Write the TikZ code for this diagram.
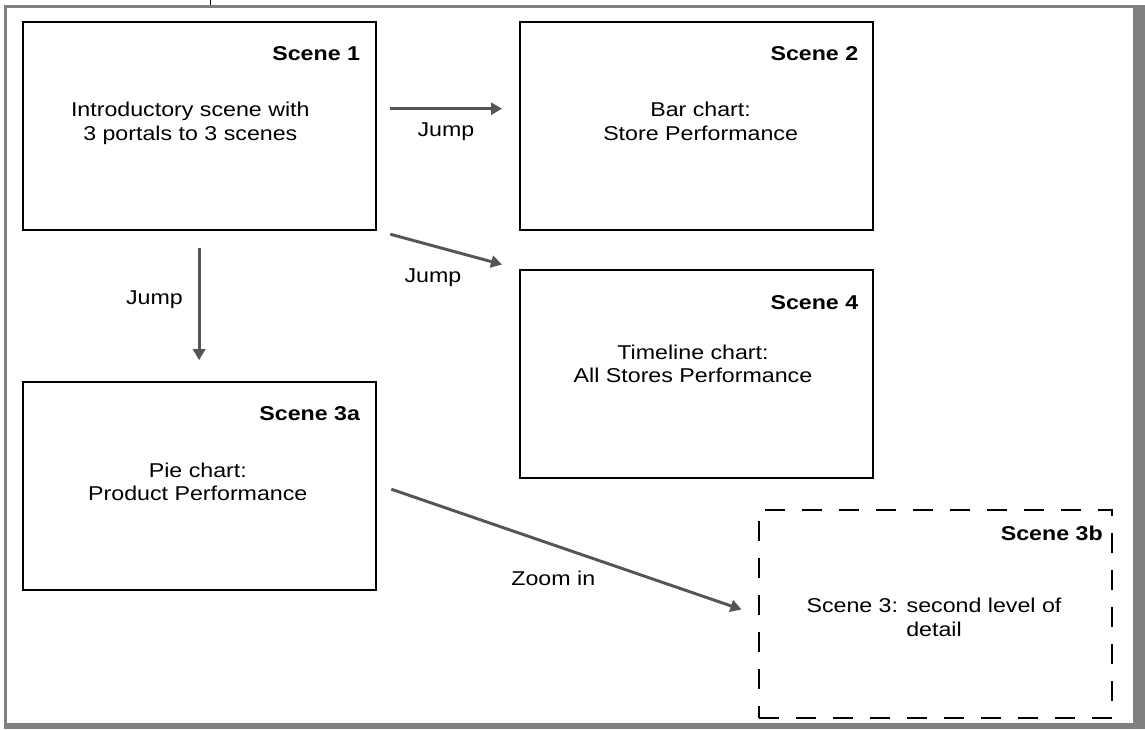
\documentclass[tikz,border=0pt]{standalone}
\usepackage{fontspec}
\setmainfont{Liberation Sans}[FakeStretch=1.16]
\usetikzlibrary{arrows.meta,calc}
\definecolor{framegray}{RGB}{128,128,128}
\definecolor{arrowgray}{RGB}{85,85,85}
\newcommand{\scenefont}{\fontsize{15pt}{17.5pt}\selectfont}
\tikzset{
  scene/.style={draw,line width=1.5pt,minimum width=264.75pt,minimum height=156pt,inner sep=0pt,anchor=north west},
  ghost/.style={scene,dash pattern=on 15pt off 12.75pt},
  title/.style={font=\scenefont\bfseries,anchor=base east,inner sep=0pt},
  body/.style={align=center,anchor=base,inner sep=0pt},
  lab/.style={anchor=base,inner sep=0pt},
  jumparr/.style={-{Triangle[length=8.25pt,width=9pt]},line width=2.2pt,draw=arrowgray}
}
\begin{document}
\begin{tikzpicture}[x=.75pt,y=-.75pt,font=\scenefont]
  \useasboundingbox (0,0) rectangle (1145,729);
  % frame
  \fill[framegray] (4,5) rectangle (1145,729);
  \fill[white] (7,8) rectangle (1133,723);
  \draw[line width=.75pt] (210.7,0) -- (210.7,5);

  % scenes
  \node[scene] (s1) at (22.3,20.7) {};
  \node[scene] (s2) at (518.5,20.7) {};
  \node[scene] (s4) at (518.5,269) {};
  \node[scene] (s3a) at (22.3,380.7) {};
  \node[ghost] (s3b) at (758,509) {};

  \node[title] (t1) at ([shift={(-17,40)}]s1.north east) {Scene 1};
  \node[title] (t2) at ([shift={(-15,40)}]s2.north east) {Scene 2};
  \node[title] (t4) at ([shift={(-15,40)}]s4.north east) {Scene 4};
  \node[title] (t3a) at ([shift={(-17,40)}]s3a.north east) {Scene 3a};
  \node[title] (t3b) at ([shift={(-10,31)}]s3b.north east) {Scene 3b};

  % base = last line
  \node[body] (b1) at ([shift={(-9.5,119.5)}]s1.north) {Introductory scene with\\3 portals to 3 scenes};
  \node[body] (b2) at ([shift={(4.6,119.5)}]s2.north) {Bar chart:\\Store Performance};
  \node[body] (b4) at ([shift={(-3,113.5)}]s4.north) {Timeline chart:\\All Stores Performance};
  \node[body] (b3a) at ([shift={(-2,120)}]s3a.north) {Pie chart:\\Product Performance};
  \node[body] (b3b) at ([shift={(-1.5,127)}]s3b.north) {Scene 3: second level of\\detail};

  % jumps
  \draw[jumparr] ([shift={(13,88)}]s1.north east) -- ([shift={(-16.5,88)}]s2.north west);
  \draw[jumparr] ([shift={(13,3.5)}]s1.south east) -- ([shift={(-16.5,-4.5)}]s4.north west);
  \draw[jumparr] ([shift={(-.7,17.5)}]s1.south) -- ([shift={(-.7,-20.5)}]s3a.north);
  \draw[jumparr] ([shift={(14,3.5)}]s3a.east) -- ([shift={(-16.5,-4.5)}]s3b.west);

  \node[lab] (j1) at (446,136.7) {Jump};
  \node[lab] (j2) at (433,282) {Jump};
  \node[lab,anchor=base east] (j3) at (183,304) {Jump};
  \node[lab] (zin) at (553.3,585) {Zoom in};
\end{tikzpicture}
\end{document}
